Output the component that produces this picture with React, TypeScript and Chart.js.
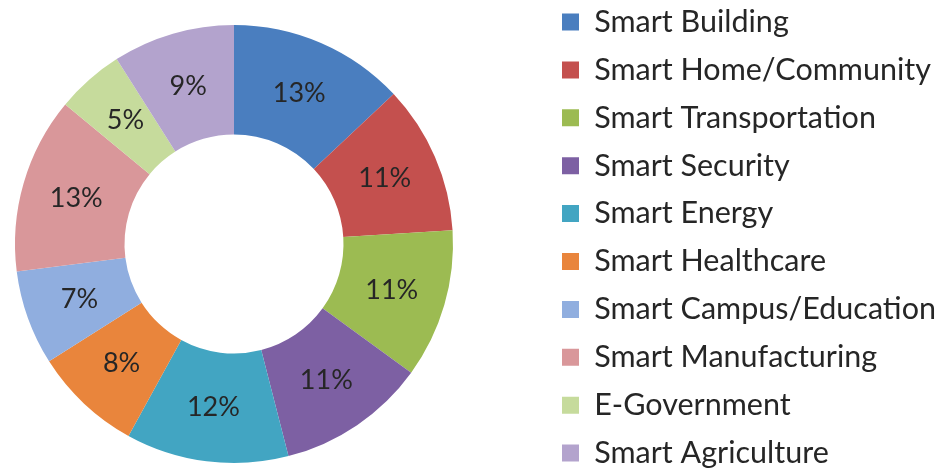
import React, { useEffect, useRef } from "react";
import { Chart, registerables } from "chart.js";

Chart.register(...registerables);

const categories = [
  "Smart Building",
  "Smart Home/Community",
  "Smart Transportation",
  "Smart Security",
  "Smart Energy",
  "Smart Healthcare",
  "Smart Campus/Education",
  "Smart Manufacturing",
  "E-Government",
  "Smart Agriculture",
];

const shares = [13, 11, 11, 11, 12, 8, 7, 13, 5, 9];

const colors = [
  "#4A7EBF",
  "#C4504E",
  "#9CBB52",
  "#7D60A3",
  "#42A5C2",
  "#E9853C",
  "#90AEDF",
  "#D9979A",
  "#C6DB9C",
  "#B3A3CD",
];

const LEGEND_FONT = 30.5;
const LEGEND_PAD = 17.4;

const labelPlugin = {
  id: "sliceLabels",
  afterDatasetsDraw(chart: any) {
    const ctx = chart.ctx;
    const meta = chart.getDatasetMeta(0);
    ctx.save();
    ctx.font = "27px Lato";
    ctx.fillStyle = "#262626";
    ctx.textAlign = "center";
    ctx.textBaseline = "middle";
    meta.data.forEach((arc: any, i: number) => {
      const p = arc.tooltipPosition();
      ctx.fillText(shares[i] + "%", p.x, p.y);
    });
    ctx.restore();
  },
};

const placePlugin = {
  id: "place",
  afterLayout(chart: any) {
    const ca = chart.chartArea;
    ca.left = 15;
    ca.right = 453;
    ca.top = 25;
    ca.bottom = 463;
    ca.width = 438;
    ca.height = 438;
    const lg = chart.legend;
    if (lg) {
      const w = lg.right - lg.left;
      lg.left = 562 - LEGEND_PAD;
      lg.right = lg.left + w;
      lg.top = 22 - LEGEND_PAD - LEGEND_FONT / 2;
      lg.bottom = 5000;
      lg.height = lg.bottom - lg.top;
    }
  },
};

export default function App() {
  const ref = useRef<HTMLCanvasElement>(null);
  useEffect(() => {
    if (!ref.current) return;
    const chart = new Chart(ref.current, {
      type: "doughnut",
      data: {
        labels: categories,
        datasets: [
          {
            data: shares,
            backgroundColor: colors,
            borderWidth: 0,
          },
        ],
      },
      options: {
        animation: false,
        responsive: false,
        cutout: "50%",
        plugins: {
          tooltip: { enabled: false },
          legend: {
            position: "right",
            align: "start",
            labels: {
              font: { family: "Lato", size: LEGEND_FONT },
              color: "#262626",
              boxWidth: 17,
              boxHeight: 17,
              padding: LEGEND_PAD,
            },
          },
        },
      },
      plugins: [placePlugin, labelPlugin],
    });
    return () => chart.destroy();
  }, []);
  return (
    <div style={{ position: "fixed", left: 0, top: 0, width: 939, height: 468, background: "#fff" }}>
      <canvas ref={ref} width={939} height={468} style={{ width: 939, height: 468 }} />
    </div>
  );
}
